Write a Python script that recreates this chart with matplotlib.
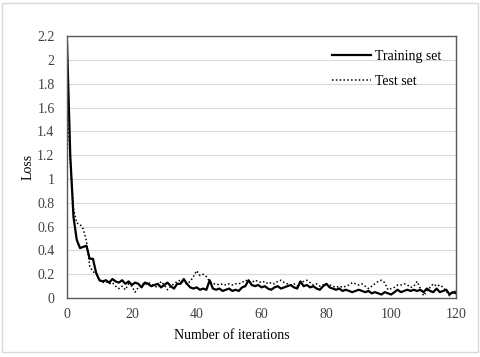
import matplotlib
matplotlib.use("Agg")
import matplotlib.pyplot as plt
from matplotlib.patches import Rectangle

iterations = list(range(0, 121))

train_loss = [
    2.15, 1.20, 0.68, 0.49, 0.42, 0.43, 0.44, 0.33, 0.33, 0.21,
    0.15, 0.14, 0.15, 0.13, 0.16, 0.14, 0.13, 0.15, 0.12, 0.14,
    0.11, 0.13, 0.12, 0.09, 0.13, 0.12, 0.10, 0.11, 0.12, 0.09,
    0.11, 0.13, 0.10, 0.08, 0.12, 0.12, 0.16, 0.12, 0.09, 0.08,
    0.09, 0.07, 0.08, 0.07, 0.15, 0.08, 0.07, 0.08, 0.06, 0.07,
    0.08, 0.06, 0.07, 0.06, 0.09, 0.10, 0.15, 0.11, 0.10, 0.11,
    0.09, 0.10, 0.08, 0.07, 0.09, 0.10, 0.08, 0.09, 0.10, 0.11,
    0.09, 0.08, 0.14, 0.10, 0.11, 0.09, 0.10, 0.08, 0.07, 0.10,
    0.12, 0.09, 0.08, 0.07, 0.08, 0.06, 0.07, 0.06, 0.05, 0.06,
    0.07, 0.06, 0.05, 0.06, 0.04, 0.05, 0.04, 0.03, 0.05, 0.04,
    0.03, 0.05, 0.07, 0.05, 0.06, 0.07, 0.06, 0.07, 0.06, 0.07,
    0.05, 0.08, 0.06, 0.05, 0.08, 0.05, 0.06, 0.07, 0.03, 0.05,
    0.04,
]

test_loss = [
    1.65, 1.15, 0.75, 0.63, 0.62, 0.58, 0.48, 0.27, 0.22, 0.21,
    0.15, 0.13, 0.14, 0.12, 0.13, 0.10, 0.08, 0.10, 0.07, 0.12,
    0.10, 0.05, 0.09, 0.12, 0.11, 0.13, 0.12, 0.10, 0.09, 0.14,
    0.11, 0.07, 0.10, 0.12, 0.14, 0.15, 0.13, 0.12, 0.14, 0.18,
    0.23, 0.19, 0.20, 0.18, 0.14, 0.12, 0.12, 0.11, 0.12, 0.11,
    0.12, 0.11, 0.12, 0.12, 0.13, 0.15, 0.14, 0.13, 0.15, 0.14,
    0.13, 0.14, 0.12, 0.13, 0.12, 0.14, 0.15, 0.13, 0.12, 0.11,
    0.12, 0.10, 0.13, 0.14, 0.15, 0.13, 0.11, 0.12, 0.10, 0.11,
    0.12, 0.11, 0.10, 0.09, 0.10, 0.09, 0.10, 0.11, 0.13, 0.12,
    0.11, 0.12, 0.10, 0.08, 0.10, 0.12, 0.14, 0.15, 0.13, 0.07,
    0.08, 0.09, 0.11, 0.11, 0.12, 0.11, 0.09, 0.10, 0.14, 0.08,
    0.02, 0.06, 0.09, 0.12, 0.10, 0.11, 0.09, 0.06, 0.02, 0.05,
    0.06,
]

x_ticks = [0, 20, 40, 60, 80, 100, 120]
y_ticks = [0, 0.2, 0.4, 0.6, 0.8, 1.0, 1.2, 1.4, 1.6, 1.8, 2.0, 2.2]
y_tick_labels = ["0", "0.2", "0.4", "0.6", "0.8", "1", "1.2", "1.4", "1.6", "1.8", "2", "2.2"]

plt.rcParams['font.family'] = ['Liberation Serif', 'DejaVu Serif']

fig = plt.figure(figsize=(4.8, 3.57), dpi=100)
fig.patches.append(Rectangle((0.005, 0.013), 0.99, 0.978, transform=fig.transFigure,
                             fill=False, edgecolor='#d9d9d9', linewidth=1.0))
ax = fig.add_axes([0.1396, 0.165, 0.8104, 0.734])

ax.plot(iterations, train_loss, color='black', linewidth=1.6, label='Training set')
ax.plot(iterations, test_loss, color='black', linewidth=1.1, linestyle=(0, (1, 1.5)), label='Test set')

ax.set_xlim(0, 120)
ax.set_ylim(0, 2.2)
ax.set_xticks(x_ticks)
ax.set_yticks(y_ticks)
ax.set_yticklabels(y_tick_labels)
ax.tick_params(axis='both', length=0, labelsize=10, colors='#404040')
ax.tick_params(axis='y', pad=9)
ax.tick_params(axis='x', pad=7)
ax.grid(axis='y', color='#d9d9d9', linewidth=0.8)
ax.set_axisbelow(True)
for s in ax.spines.values():
    s.set_color('#595959')
    s.set_linewidth(1.0)

ax.set_xlabel('Number of iterations', fontsize=10)
ax.xaxis.set_label_coords(0.424, -0.118)
ax.set_ylabel('Loss', fontsize=10, labelpad=2)

ax.legend(loc='upper right', frameon=False, fontsize=10, handlelength=2.8,
          labelspacing=0.85, handletextpad=0.3, bbox_to_anchor=(0.995, 0.995))

fig.savefig('out.png', dpi=100)
